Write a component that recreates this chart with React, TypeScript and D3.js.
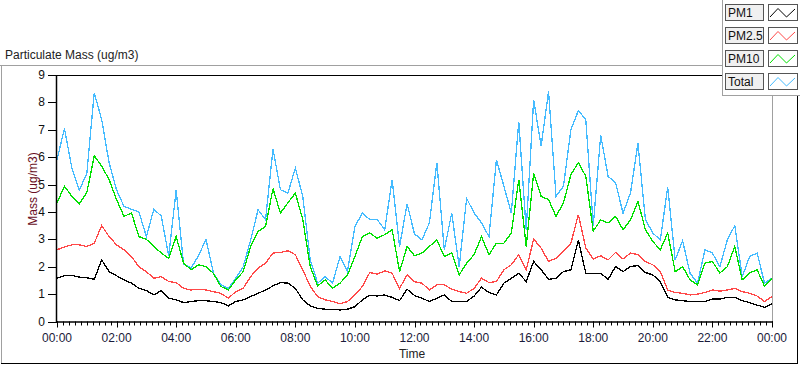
import * as d3 from 'd3';
import React from 'react';

// quarter-hour samples, 00:00 .. 24:00
const steps = d3.range(0, 97);

const total = [
    5.9, 7.05, 5.6, 4.8, 5.4, 8.35, 7.37, 5.79, 4.8, 4.2, 4.1, 4.0, 3.1, 4.1, 3.85, 2.4, 4.8, 2.1, 1.95, 2.4, 3.0, 1.77, 1.34, 1.2, 1.58,
    2.0, 2.98, 4.08, 3.72, 6.3, 4.81, 4.69, 5.6, 4.57, 2.25, 1.4, 1.64, 1.4, 2.37, 1.82, 3.47, 3.96, 3.72, 3.72, 3.35, 5.18, 2.74, 4.3, 3.2,
    2.98, 3.6, 5.8, 2.62, 3.96, 2.0, 4.5, 3.96, 3.6, 3.1, 5.9, 4.94, 3.96, 7.3, 3.35, 8.1, 6.4, 8.4, 4.57, 4.94, 7.01, 7.7, 7.37, 3.5,
    6.8, 5.3, 5.06, 3.96, 4.69, 6.5, 3.72, 3.23, 2.98, 4.9, 2.25, 2.95, 1.76, 1.4, 2.62, 2.5, 2.0, 2.98, 3.5, 1.64, 2.37, 2.5, 1.4, 1.58,
];

const pm10 = [
    4.33, 4.94, 4.57, 4.3, 4.7, 6.05, 5.67, 5.18, 4.45, 3.84, 3.96, 3.1, 3.0, 2.74, 2.5, 2.3, 3.1, 2.13, 1.89, 2.07, 2.0, 1.76, 1.28, 1.15, 1.52,
    1.82, 2.74, 3.29, 3.47, 4.85, 3.96, 4.33, 4.69, 3.72, 2.0, 1.3, 1.52, 1.21, 1.4, 1.7, 2.37, 3.1, 3.23, 3.04, 3.17, 3.35, 1.82, 2.74, 2.4,
    2.5, 2.74, 2.98, 2.37, 2.5, 1.7, 2.13, 2.44, 3.1, 2.44, 2.86, 2.86, 3.23, 5.18, 2.74, 5.42, 4.57, 4.45, 3.84, 4.33, 5.36, 5.8, 5.3, 3.3,
    3.71, 3.6, 3.84, 3.35, 3.71, 4.39, 3.35, 2.92, 2.62, 3.23, 1.82, 2.0, 1.52, 1.34, 2.13, 2.19, 1.77, 2.0, 2.74, 1.52, 1.77, 1.89, 1.28, 1.58,
];

const pm25 = [
    2.62, 2.72, 2.8, 2.8, 2.74, 2.86, 3.5, 3.1, 2.8, 2.62, 2.37, 2.0, 1.82, 1.58, 1.64, 1.46, 1.42, 1.21, 1.15, 1.18, 1.15, 1.09, 1.03, 0.85, 1.09,
    1.21, 1.64, 1.95, 2.13, 2.5, 2.52, 2.58, 2.44, 1.89, 1.28, 0.91, 0.79, 0.73, 0.64, 0.73, 0.97, 1.28, 1.79, 1.73, 1.85, 1.76, 1.21, 1.7, 1.45,
    1.4, 1.15, 1.34, 1.34, 1.18, 1.09, 1.03, 1.21, 1.58, 1.42, 1.46, 1.89, 2.07, 2.44, 1.89, 3.01, 2.68, 2.19, 2.31, 2.56, 2.86, 3.9, 2.68, 2.28,
    2.4, 2.25, 2.52, 2.28, 2.5, 2.44, 2.19, 2.07, 1.82, 1.15, 1.06, 1.03, 0.97, 1.0, 1.06, 1.15, 1.11, 1.15, 1.21, 1.09, 1.03, 0.93, 0.73, 0.91,
];

const pm1 = [
    1.58, 1.67, 1.68, 1.62, 1.6, 1.54, 2.25, 1.82, 1.67, 1.52, 1.4, 1.21, 1.13, 0.97, 1.13, 0.85, 0.79, 0.69, 0.73, 0.76, 0.76, 0.73, 0.69, 0.57, 0.73,
    0.79, 0.91, 1.03, 1.15, 1.3, 1.42, 1.4, 1.21, 0.79, 0.57, 0.48, 0.45, 0.45, 0.42, 0.45, 0.54, 0.79, 0.96, 0.93, 0.97, 0.88, 0.76, 1.18, 0.95,
    0.85, 0.73, 0.85, 0.97, 0.73, 0.73, 0.73, 0.93, 1.25, 1.06, 0.97, 1.4, 1.58, 1.76, 1.46, 2.19, 1.89, 1.54, 1.58, 1.82, 1.89, 2.98, 1.76, 1.75,
    1.76, 1.54, 2.01, 1.82, 2.01, 2.04, 1.79, 1.7, 1.46, 0.88, 0.79, 0.76, 0.73, 0.74, 0.73, 0.82, 0.82, 0.88, 0.88, 0.76, 0.69, 0.6, 0.52, 0.64,
];

const seriesNames = ['PM1', 'PM2.5', 'PM10', 'Total'];
const seriesColors = ['#000000', '#ff4848', '#00e000', '#44bbff'];
const xTickLabels = ['00:00', '02:00', '04:00', '06:00', '08:00', '10:00', '12:00', '14:00', '16:00', '18:00', '20:00', '22:00', '00:00'];
const yTicks = [0, 1, 2, 3, 4, 5, 6, 7, 8, 9];

const font = '"Liberation Sans", Arial, sans-serif';

const App: React.FC = () => {
    const left = 57, right = 772, top = 75, bottom = 321.5;

    const x = d3.scaleLinear().domain([0, 96]).range([left, right]);
    const y = d3.scaleLinear().domain([0, 9]).range([bottom, top]);

    const line = (vals: number[]) =>
        d3.line<number>()
            .x((_, i) => x(steps[i]))
            .y(d => y(d))(vals) || '';

    // draw order: Total behind, PM1 on top
    const drawn = [
        { vals: total, color: seriesColors[3] },
        { vals: pm10, color: seriesColors[2] },
        { vals: pm25, color: seriesColors[1] },
        { vals: pm1, color: seriesColors[0] },
    ];

    const minorTicks = d3.range(0, 96.01, 0.8); // every 12 min
    const majorTicks = d3.range(0, 97, 8);

    return (
        <div style={{ position: 'fixed', left: 0, top: 0 }}>
            <svg width={800} height={365} style={{ display: 'block', fontFamily: font }}>
                <rect width={800} height={365} fill="#ffffff" />

                {/* outer frame */}
                <line x1={0} x2={722} y1={65.5} y2={65.5} stroke="#a0a0a0" />
                <line x1={1.5} x2={1.5} y1={65} y2={364} stroke="#a0a0a0" />
                <line x1={1} x2={798} y1={363.5} y2={363.5} stroke="#000" />
                <line x1={797.5} x2={797.5} y1={95} y2={364} stroke="#000" />

                <text x={5} y={59} fontSize={12} fill="#222">Particulate Mass (ug/m3)</text>

                {/* plot frame */}
                <line x1={left} x2={right} y1={top + 0.5} y2={top + 0.5} stroke="#000" />
                <line x1={right + 0.5} x2={right + 0.5} y1={top} y2={bottom} stroke="#a0a0a0" />

                <g shapeRendering="crispEdges">
                    {drawn.map((s, i) => (
                        <path key={i} d={line(s.vals)} fill="none" stroke={s.color} strokeWidth={1.3} />
                    ))}
                </g>

                {/* axes */}
                <line x1={left - 0.5} x2={left - 0.5} y1={top} y2={bottom + 1} stroke="#000" strokeWidth={1.5} />
                <line x1={left} x2={right + 1} y1={bottom + 0.5} y2={bottom + 0.5} stroke="#000" strokeWidth={1.5} />

                {yTicks.map(t => (
                    <g key={t}>
                        <line x1={left - 9} x2={left} y1={Math.round(y(t)) + 0.5} y2={Math.round(y(t)) + 0.5} stroke="#000" />
                        <text x={left - 12} y={y(t) + 4} fontSize={12} textAnchor="end" fill="#111">{t}</text>
                    </g>
                ))}

                {minorTicks.map((t, i) => (
                    <line key={i} x1={Math.round(x(t)) + 0.5} x2={Math.round(x(t)) + 0.5} y1={bottom} y2={bottom + 4} stroke="#000" />
                ))}
                {majorTicks.map((t, i) => (
                    <g key={i}>
                        <line x1={Math.round(x(t)) + 0.5} x2={Math.round(x(t)) + 0.5} y1={bottom} y2={bottom + 6} stroke="#000" />
                        <text x={x(t)} y={342} fontSize={12} textAnchor="middle" fill="#1a1a3a">{xTickLabels[i]}</text>
                    </g>
                ))}

                <text x={412} y={358} fontSize={12} textAnchor="middle" fill="#222">Time</text>
                <text transform="translate(37,189) rotate(-90)" fontSize={12} textAnchor="middle" fill="#6a0f24">Mass (ug/m3)</text>

                {/* legend */}
                <rect x={722} y={0} width={78} height={95} fill="#ffffff" />
                <line x1={722.5} x2={722.5} y1={0} y2={95} stroke="#a0a0a0" />
                <line x1={722} x2={800} y1={95.5} y2={95.5} stroke="#a0a0a0" />
                {seriesNames.map((name, i) => {
                    const ty = 4 + i * 23;
                    return (
                        <g key={name}>
                            <rect x={725.5} y={ty + 0.5} width={38} height={16} fill="#f0f0f0" stroke="#555" />
                            <text x={728} y={ty + 13} fontSize={12} fill="#111">{name}</text>
                            <rect x={768.5} y={ty + 0.5} width={29} height={16} fill="#ffffff" stroke="#555" />
                            <polyline
                                points={`770,${ty + 13} 778,${ty + 4.5} 786.5,${ty + 13} 795,${ty + 5}`}
                                fill="none"
                                stroke={seriesColors[i]}
                            />
                        </g>
                    );
                })}
            </svg>
        </div>
    );
};

export default App;
